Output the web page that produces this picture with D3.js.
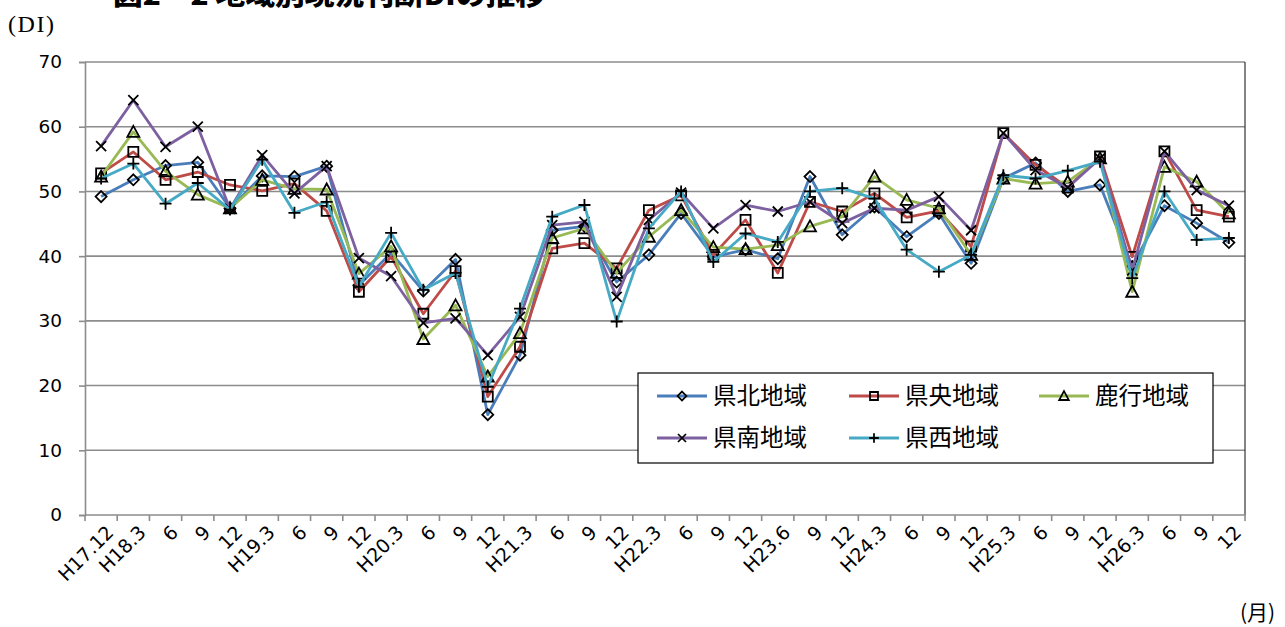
<!DOCTYPE html>
<html><head><meta charset="utf-8">
<script src="https://cdn.jsdelivr.net/npm/d3@7"></script>
<style>body{margin:0;background:#fff;}svg{display:block;}</style>
</head><body>
<script>
const categories = ["H17.12","H18.3","6","9","12","H19.3","6","9","12","H20.3","6","9","12","H21.3","6","9","12","H22.3","6","9","12","H23.6","9","12","H24.3","6","9","12","H25.3","6","9","12","H26.3","6","9","12"];
const seriesNames = ["県北地域","県央地域","鹿行地域","県南地域","県西地域"];
const kenpoku = [49.2,51.8,54.0,54.5,47.4,52.4,52.3,53.9,35.5,40.5,34.6,39.5,15.5,24.7,44.0,44.6,36.0,40.2,46.6,39.9,41.0,39.6,52.3,43.3,47.6,43.0,46.6,38.9,52.0,54.4,50.0,51.0,38.4,47.8,45.1,42.1];
const kenou = [52.8,56.1,51.8,53.0,51.0,50.1,51.2,47.0,34.5,39.9,31.1,37.7,18.3,26.0,41.2,42.0,38.1,47.1,49.4,40.2,45.6,37.4,48.4,46.9,49.7,46.0,47.0,41.5,59.0,54.1,50.6,55.4,39.9,56.2,47.1,46.1];
const rokko = [52.3,59.2,53.1,49.5,47.4,51.8,50.4,50.3,37.3,41.5,27.2,32.4,21.4,28.1,42.8,44.3,37.4,43.0,47.1,41.4,41.1,41.7,44.6,46.1,52.3,48.7,47.4,40.2,52.0,51.2,51.5,55.1,34.5,53.8,51.5,46.6];
const kennan = [57.0,64.1,56.9,60.0,47.3,55.6,49.7,53.9,39.7,36.9,29.7,30.4,24.7,30.6,44.8,45.3,33.7,45.6,49.8,44.3,47.9,46.9,48.4,45.1,47.4,47.1,49.2,44.0,59.0,53.3,50.6,55.1,37.8,56.2,50.2,47.8];
const kensei = [52.0,54.3,48.1,51.3,47.2,54.9,46.7,48.4,35.3,43.6,34.8,37.4,19.8,31.9,46.1,47.9,29.9,44.3,50.0,39.1,43.5,42.2,50.0,50.5,48.9,41.0,37.6,40.2,52.5,52.0,53.2,54.6,36.6,50.0,42.5,42.8];
const yTicks = [0,10,20,30,40,50,60,70];

const colors = ["#4A7EBB","#BE4B48","#98B954","#7D60A0","#46AAC5"];
const markers = [
  "M0,-5.5L5.5,0L0,5.5L-5.5,0Z",
  "M-5,-5H5V5H-5Z",
  "M0,-6L6,5L-6,5Z",
  "M-5,-5L5,5M-5,5L5,-5",
  "M-6,0H6M0,-6V6"
];
const allSeries = [kenpoku,kenou,rokko,kennan,kensei];

const W=1285,H=627;
const svg=d3.select("body").append("svg").attr("width",W).attr("height",H);
const font="'Noto Sans CJK JP','Noto Sans',sans-serif";
const numFont="'DejaVu Sans','Noto Sans',sans-serif";

const x=d3.scaleBand().domain(d3.range(categories.length)).range([85,1245]).padding(0);
const y=d3.scaleLinear().domain([0,70]).range([515,62]);

// title (cut off at top, as in the reference)
svg.append("text").attr("x",113).attr("y",5).attr("font-family",font).attr("font-weight","900")
  .attr("font-size",27).attr("textLength",432).attr("lengthAdjust","spacingAndGlyphs")
  .attr("fill","#000").text("図2－2 地域別現況判断DIの推移");

svg.append("text").attr("x",8).attr("y",32).attr("font-family","'Liberation Serif','DejaVu Serif',serif")
  .attr("font-size",24).attr("textLength",46).text("(DI)");
svg.append("text").attr("x",1240).attr("y",620).attr("font-family",font)
  .attr("font-size",21).text("(月)");

// gridlines
svg.append("g").selectAll("line").data(yTicks.filter(d=>d>0)).join("line")
  .attr("x1",85).attr("x2",1245).attr("y1",d=>y(d)).attr("y2",d=>y(d))
  .attr("stroke","#8c8c8c").attr("stroke-width",1.6);

// right border
svg.append("line").attr("x1",1245).attr("x2",1245).attr("y1",62).attr("y2",515)
  .attr("stroke","#333").attr("stroke-width",1.2);

// y axis
const yAxis=d3.axisLeft(y).tickValues(yTicks).tickSize(6).tickPadding(17);
const gy=svg.append("g").attr("transform","translate(85,0)").call(yAxis);
gy.select(".domain").attr("stroke","#8c8c8c").attr("stroke-width",1.6);
gy.selectAll(".tick line").attr("stroke","#8c8c8c").attr("stroke-width",1.6);
gy.selectAll(".tick text").attr("font-family",numFont).attr("font-size",18.5).attr("fill","#000");

// x axis
const gx=svg.append("g").attr("transform","translate(0,515)");
gx.append("line").attr("x1",85).attr("x2",1245).attr("stroke","#8c8c8c").attr("stroke-width",1.6);
gx.selectAll("line.t").data(d3.range(categories.length+1)).join("line").attr("class","t")
  .attr("x1",i=>85+i*x.bandwidth()).attr("x2",i=>85+i*x.bandwidth()).attr("y1",0).attr("y2",6)
  .attr("stroke","#8c8c8c").attr("stroke-width",1.6);
gx.selectAll("text").data(categories).join("text")
  .attr("transform",(d,i)=>`translate(${x(i)+x.bandwidth()/2+9},${14}) rotate(-45)`)
  .attr("text-anchor","end").attr("font-family",numFont).attr("font-size",19).attr("fill","#000")
  .attr("dy","0.35em").text(d=>d);

// series
const line=d3.line().x((d,i)=>x(i)+x.bandwidth()/2).y(d=>y(d));
allSeries.forEach((s,k)=>{
  const g=svg.append("g");
  g.append("path").datum(s).attr("d",line).attr("fill","none").attr("stroke",colors[k])
    .attr("stroke-width",2.8).attr("stroke-linejoin","round");
  g.selectAll("path.m").data(s).join("path").attr("class","m")
    .attr("transform",(d,i)=>`translate(${x(i)+x.bandwidth()/2},${y(d)})`)
    .attr("d",markers[k]).attr("fill","none").attr("stroke","#000").attr("stroke-width",1.8);
});

// legend
const lg=svg.append("g");
lg.append("rect").attr("x",638).attr("y",373).attr("width",575).attr("height",90)
  .attr("fill","#fff").attr("stroke","#000").attr("stroke-width",1.2);
const pos=[[657,396],[849,396],[1039,396],[657,438],[849,438]];
seriesNames.forEach((n,k)=>{
  const [lx,ly]=pos[k];
  lg.append("line").attr("x1",lx).attr("x2",lx+50).attr("y1",ly).attr("y2",ly)
    .attr("stroke",colors[k]).attr("stroke-width",2.8);
  lg.append("path").attr("transform",`translate(${lx+25},${ly}) scale(0.8)`).attr("d",markers[k])
    .attr("fill","none").attr("stroke","#000").attr("stroke-width",2.2);
  lg.append("text").attr("x",lx+56).attr("y",ly).attr("dy","0.36em").attr("font-family",font)
    .attr("font-size",23.5).attr("fill","#000").text(n);
});
</script>
</body></html>
